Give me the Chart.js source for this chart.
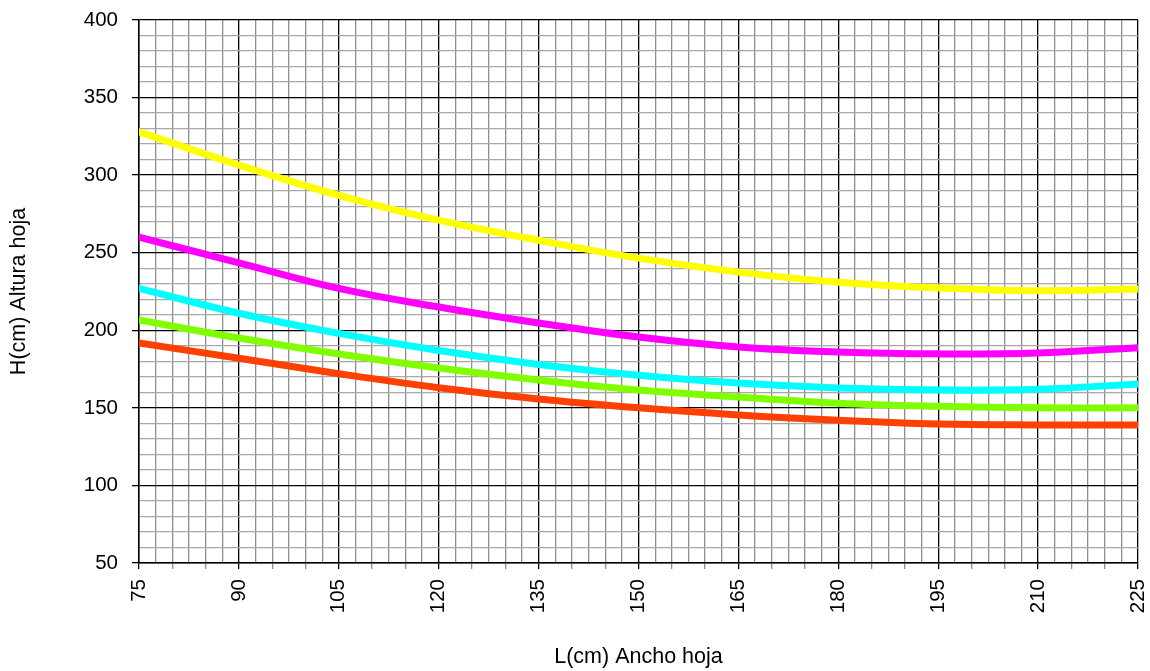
<!DOCTYPE html>
<html lang="es">
<head>
    <meta charset="UTF-8">
    <title>index</title>
    <script src="https://cdn.jsdelivr.net/npm/chart.js@4.4.1/dist/chart.umd.min.js"></script>
    <style>
        html, body { margin: 0; padding: 0; background: #fff; overflow: hidden; }
        .chart-container { width: 1150px; height: 671px; }
        canvas { display: block; }
    </style>
</head>
<body>
<div class="chart-container">
    <canvas id="canvas"></canvas>
</div>
<script>
    // ancho L (cm)
    var anchos = [75, 90, 105, 120, 135, 150, 165, 180, 195, 210, 225];
    // altura H (cm) por curva
    var curvaAmarilla = [328, 306.5, 287, 271, 258, 246.5, 237.5, 231, 227.3, 225.5, 226.6];
    var curvaMagenta = [260, 243.5, 227, 215, 204.7, 195.7, 189.3, 186, 184.8, 185.4, 188.8];
    var curvaCian = [227, 211, 198, 187, 178, 171, 166, 162.8, 161.5, 162, 165.4];
    var curvaVerde = [206.6, 195, 184.7, 175.7, 168, 161.5, 157, 153, 151, 150, 150];
    var curvaRoja = [191.8, 182, 172, 163, 155.7, 150, 145.4, 142, 139.6, 139, 139];

    function pares(ys) {
        return ys.map(function (y, i) { return {x: anchos[i], y: y}; });
    }

    function serie(ys, color) {
        return {
            data: pares(ys),
            borderColor: color,
            backgroundColor: color,
            borderWidth: 7,
            borderCapStyle: 'round',
            pointRadius: 0,
            tension: 0.4,
            fill: false
        };
    }

    function multiplo(v, m) {
        var r = Math.abs(v % m);
        return r < 1e-6 || Math.abs(r - m) < 1e-6;
    }

    var familia = '"Liberation Sans", Arial, sans-serif';

    window.onload = function () {
        var ctx = document.getElementById('canvas').getContext('2d');
        new Chart(ctx, {
            type: 'line',
            data: {
                datasets: [
                    serie(curvaAmarilla, '#ffff00'),
                    serie(curvaMagenta, '#ff00ff'),
                    serie(curvaCian, '#00ffff'),
                    serie(curvaVerde, '#80ff00'),
                    serie(curvaRoja, '#ff4000')
                ]
            },
            options: {
                responsive: true,
                maintainAspectRatio: false,
                animation: false,
                layout: {padding: {top: 20, right: 12, left: 0, bottom: 0}},
                plugins: {legend: {display: false}, tooltip: {enabled: false}},
                scales: {
                    x: {
                        type: 'linear',
                        min: 75,
                        max: 225,
                        afterFit: function (s) {
                            s.height = 108;
                            s.paddingLeft = 0;
                            s.paddingRight = 0;
                        },
                        border: {color: '#000', width: 1.5},
                        grid: {
                            color: function (c) {
                                return multiplo(c.tick.value, 15) ? '#000' : '#8e8e8e';
                            },
                            lineWidth: 1.3,
                            tickLength: 6,
                            tickColor: function (c) {
                                if (multiplo(c.tick.value, 15)) return '#000';
                                return multiplo(c.tick.value, 5) ? '#8e8e8e' : 'rgba(0,0,0,0)';
                            }
                        },
                        ticks: {
                            stepSize: 2.5,
                            autoSkip: false,
                            maxTicksLimit: 100,
                            minRotation: 90,
                            maxRotation: 90,
                            padding: 10,
                            color: '#000',
                            font: {family: familia, size: 20.5},
                            callback: function (v) { return multiplo(v, 15) ? String(v) : ''; }
                        },
                        title: {
                            display: true,
                            text: 'L(cm) Ancho hoja',
                            color: '#000',
                            font: {family: familia, size: 21.5},
                            padding: {top: 0, bottom: 1}
                        }
                    },
                    y: {
                        min: 50,
                        max: 400,
                        afterFit: function (s) {
                            s.width = 139;
                            s.paddingTop = 0;
                            s.paddingBottom = 0;
                        },
                        border: {color: '#000', width: 1.5},
                        grid: {
                            color: function (c) {
                                return multiplo(c.tick.value, 50) ? '#000' : '#a8a8a8';
                            },
                            lineWidth: 1.3,
                            tickLength: 7,
                            tickColor: function (c) {
                                return multiplo(c.tick.value, 50) ? '#000' : 'rgba(0,0,0,0)';
                            }
                        },
                        ticks: {
                            stepSize: 10,
                            autoSkip: false,
                            maxTicksLimit: 100,
                            padding: 14,
                            color: '#000',
                            font: {family: familia, size: 20.5},
                            callback: function (v) { return multiplo(v, 50) ? String(v) : ''; }
                        },
                        title: {
                            display: true,
                            text: 'H(cm) Altura hoja',
                            color: '#000',
                            font: {family: familia, size: 21.5},
                            padding: {top: 6, bottom: 0}
                        }
                    }
                }
            }
        });
    };
</script>
</body>
</html>
